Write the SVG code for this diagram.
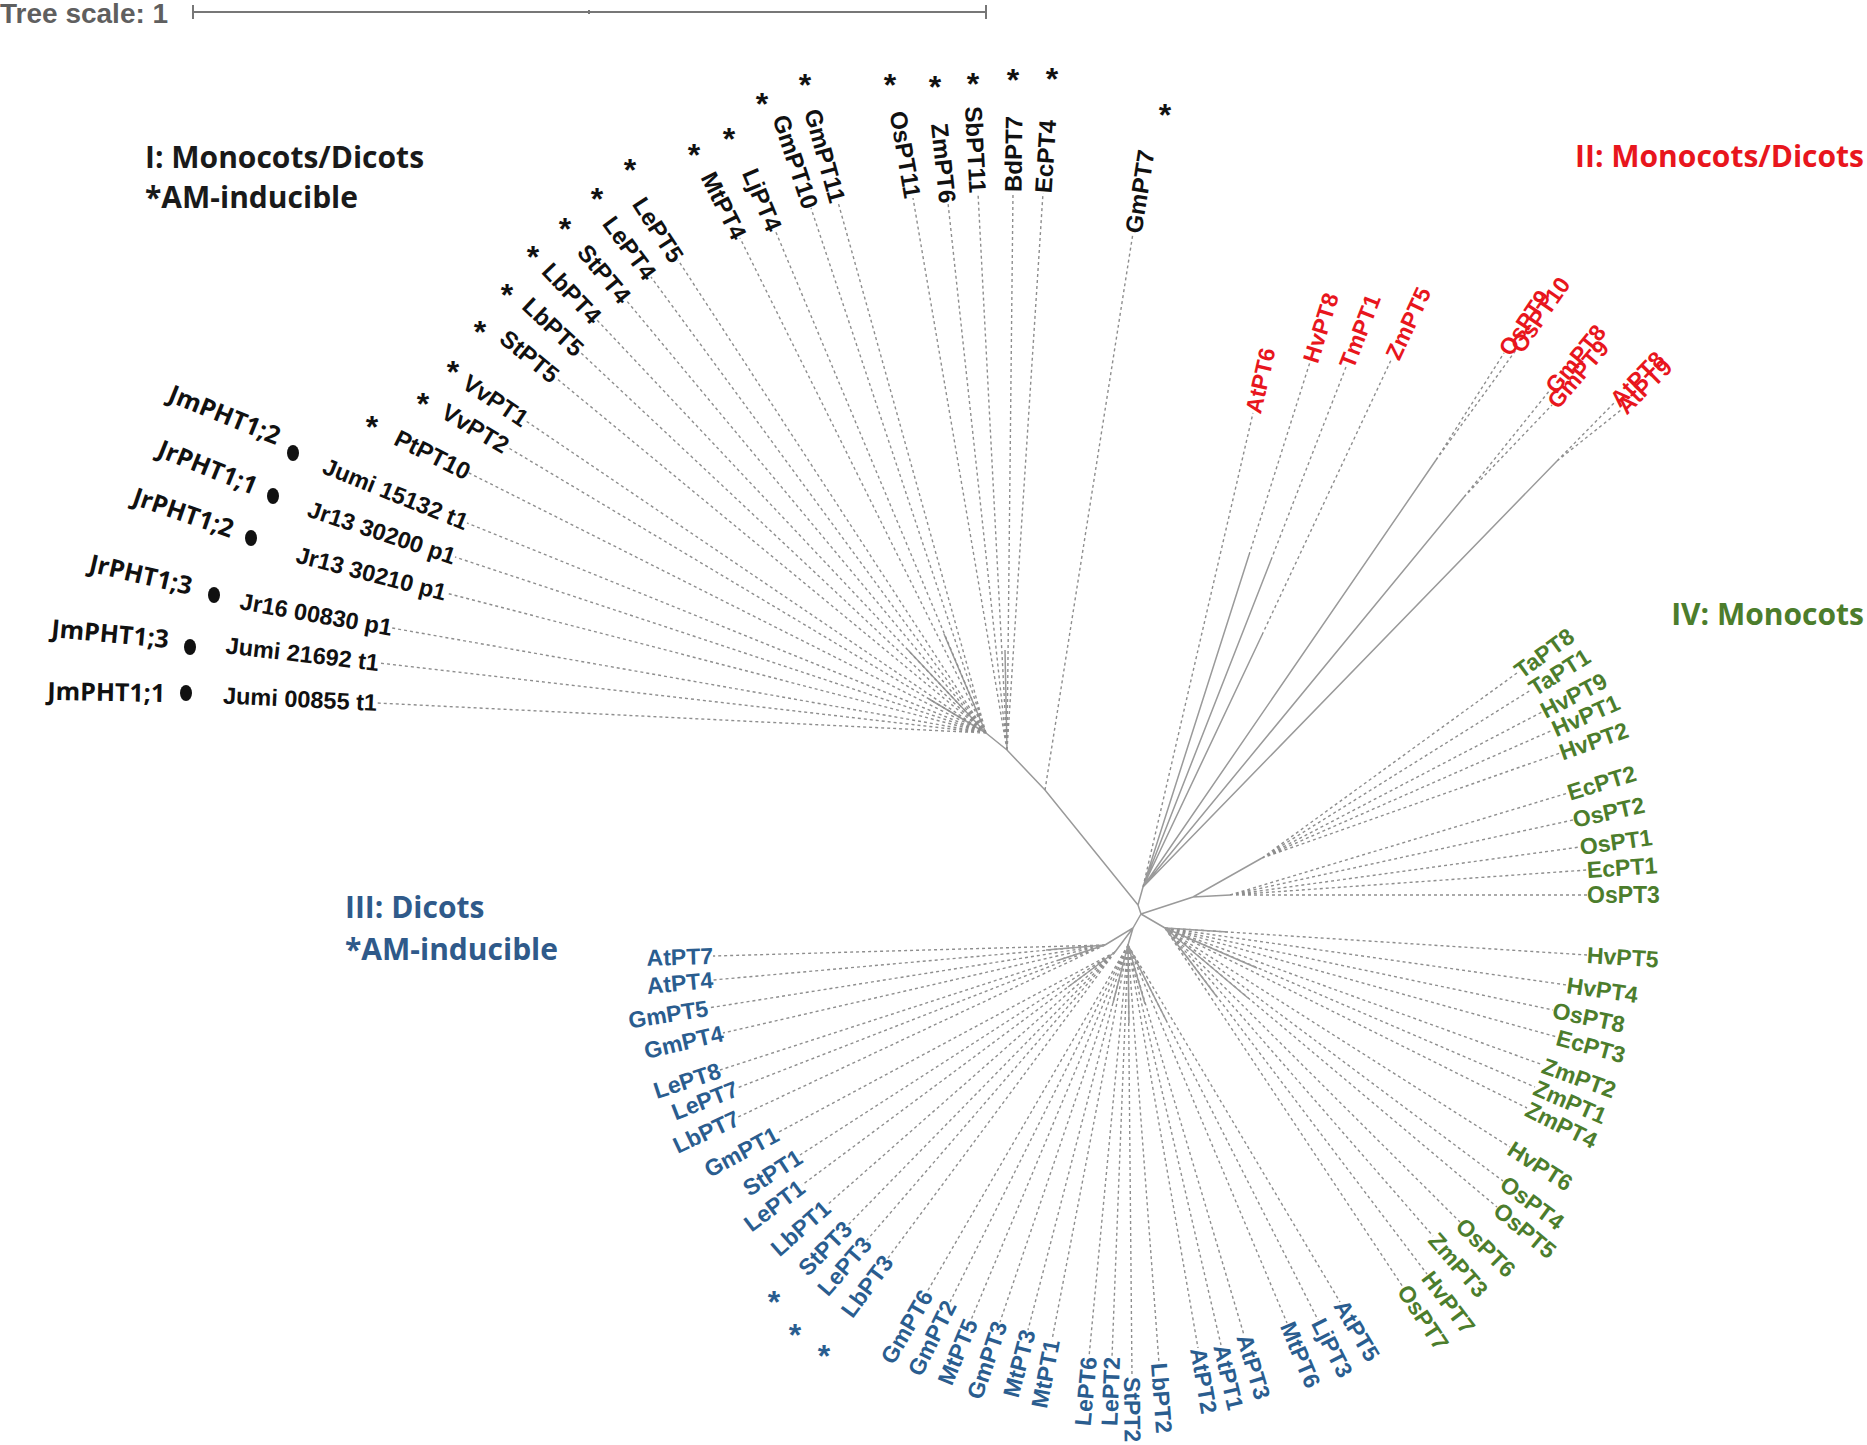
<svg xmlns="http://www.w3.org/2000/svg" width="1867" height="1445" viewBox="0 0 1867 1445">
<style>
.d{stroke:#8e8e8e;stroke-width:1.4;stroke-dasharray:3 3;fill:none}
.s{stroke:#9a9a9a;stroke-width:1.5;fill:none}
.lb{font-family:"Liberation Sans",Arial,sans-serif;font-weight:bold;font-size:23px;dominant-baseline:central}
.k{font-size:24px}
.j{font-size:23.5px}
.e{text-anchor:end}
.k,.j{fill:#111}
.r{fill:#e8161d}
.g{fill:#4c7d2c}
.b{fill:#2a5d8f}
.ast{font-family:"Liberation Sans",Arial,sans-serif;font-weight:bold;font-size:32px;text-anchor:middle}
.ti{font-family:"Open Sans","Liberation Sans",sans-serif;font-weight:700;font-size:30px}
.jm{font-family:"Open Sans","Liberation Sans",sans-serif;font-weight:700;font-size:25px;fill:#111;text-anchor:end}
</style>
<rect width="1867" height="1445" fill="#fff"/>
<g id="scale">
<text x="0" y="23" font-family="Liberation Sans,Arial,sans-serif" font-weight="bold" font-size="28" fill="#5f5f5f">Tree scale: 1</text>
<path d="M193 12H986M193 5V19M986 5V19M589 10V14" stroke="#777" stroke-width="2" fill="none"/>
</g>
<g id="titles">
<text class="ti" x="145" y="168" fill="#1a1a1a">I: Monocots/Dicots</text>
<text class="ti" x="145" y="208" fill="#1a1a1a">*AM-inducible</text>
<text class="ti" x="1864" y="167" fill="#e8161d" text-anchor="end">II: Monocots/Dicots</text>
<text class="ti" x="1864" y="625" fill="#4c7d2c" text-anchor="end">IV: Monocots</text>
<text class="ti" x="345" y="918" fill="#2f5a8a">III: Dicots</text>
<text class="ti" x="345" y="960" fill="#2f5a8a">*AM-inducible</text>
</g>
<g id="connectors">
<path class="s" d="M1138 905L1045 790L1007 750L986 733M1007 750L1005 650M986 733L908 650M986 733L944 634M986 733L929 699M1138 905L1141 914M1138 905L1143 887M1141 914L1193 897L1262 858M1193 897L1230 895M1141 914L1165 928M1141 914L1133 928L1105 945M1133 928L1115 952M1133 928L1128 945"/>
<path class="d" d="M986 733L377 703M986 733L379 663M986 733L392 628M986 733L446 593M986 733L455 557M986 733L467 523M986 733L469 473M986 733L507 447M986 733L526 421M986 733L556 378M986 733L580 352M986 733L597 320M986 733L626 300M986 733L651 277M986 733L678 260M986 733L740 238M986 733L775 230M986 733L811 208M986 733L838 202M1007 750L913 198M1007 750L948 203M1007 750L978 193M1007 750L1013 192M1007 750L1043 193M1045 790L1133 233"/>
<path class="s" d="M1143 887L1249 555M1143 887L1271 560M1143 887L1262 635M1143 887L1436 460M1143 887L1464 497M1143 887L1557 461"/>
<path class="d" d="M1143 887L1253 413M1249 555L1310 362M1271 560L1346 367M1262 635L1392 358M1436 460L1504 353M1436 460L1516 350M1464 497L1550 390M1464 497L1552 405M1557 461L1614 403M1557 461L1621 410"/>
<path class="d" d="M1262 858L1517 673M1262 858L1531 690M1262 858L1542 712M1262 858L1553 730M1262 858L1560 753M1230 895L1568 793M1230 895L1573 820M1230 895L1580 847M1230 895L1587 870M1230 895L1587 895"/>
<path class="d" d="M1165 928L1587 955M1165 928L1567 985M1165 928L1553 1010M1165 928L1557 1037M1165 928L1543 1065M1165 928L1535 1087M1165 928L1527 1108M1165 928L1510 1147M1165 928L1503 1181M1165 928L1497 1207M1165 928L1460 1222M1165 928L1433 1236M1165 928L1427 1274M1165 928L1403 1287"/>
<path class="s" d="M1165 928L1228 932M1165 928L1257 968M1165 928L1248 998M1165 928L1217 997"/>
<path class="d" d="M1105 945L713 956M1105 945L713 980M1105 945L708 1008M1105 945L723 1033M1105 945L720 1070M1105 945L737 1088M1105 945L738 1117M1115 952L777 1133M1115 952L800 1155M1115 952L802 1185M1115 952L827 1205M1115 952L848 1225M1115 952L867 1240M1115 952L888 1258M1128 945L927 1292M1128 945L950 1302M1128 945L971 1320M1128 945L1000 1322M1128 945L1028 1330M1128 945L1052 1340M1128 945L1089 1357M1128 945L1112 1357M1128 945L1132 1377M1128 945L1159 1363M1128 945L1198 1348M1128 945L1221 1345M1128 945L1244 1335M1128 945L1287 1323M1128 945L1318 1320M1128 945L1340 1302"/>
<path class="s" d="M1105 945L1046 950M1105 945L1059 960M1115 952L1068 987M1128 945L1129 1023M1128 945L1113 1003M1128 945L1145 1004M1128 945L1166 1020"/>
</g>
<g id="group1">
<g id="leaf-Jumi00855"><text class="lb j e" transform="translate(377,703) rotate(2.8)">Jumi 00855 t1</text><ellipse cx="186" cy="693" rx="6" ry="8" fill="#111"/><text class="jm" transform="translate(165,702) rotate(1)">JmPHT1;1</text></g>
<g id="leaf-Jumi21692"><text class="lb j e" transform="translate(379,663) rotate(6.6)">Jumi 21692 t1</text><ellipse cx="190" cy="647" rx="6" ry="8" fill="#111"/><text class="jm" transform="translate(168,648) rotate(5.4)">JmPHT1;3</text></g>
<g id="leaf-Jr1600830"><text class="lb j e" transform="translate(392,628) rotate(10)">Jr16 00830 p1</text><ellipse cx="214" cy="595" rx="6" ry="8" fill="#111"/><text class="jm" transform="translate(190,595) rotate(13)">JrPHT1;3</text></g>
<g id="leaf-Jr1330210"><text class="lb j e" transform="translate(446,593) rotate(14.5)">Jr13 30210 p1</text><ellipse cx="251" cy="538" rx="6" ry="8" fill="#111"/><text class="jm" transform="translate(230,538) rotate(19)">JrPHT1;2</text></g>
<g id="leaf-Jr1330200"><text class="lb j e" transform="translate(455,557) rotate(18.3)">Jr13 30200 p1</text><ellipse cx="273" cy="496" rx="6" ry="8" fill="#111"/><text class="jm" transform="translate(253,495) rotate(22)">JrPHT1;1</text></g>
<g id="leaf-Jumi15132"><text class="lb j e" transform="translate(467,523) rotate(22)">Jumi 15132 t1</text><ellipse cx="293" cy="453" rx="6" ry="8" fill="#111"/><text class="jm" transform="translate(276,445) rotate(22)">JmPHT1;2</text></g>
<g id="leaf-PtPT10"><text class="lb k e" transform="translate(469,473) rotate(26.7)">PtPT10</text><text class="ast k" x="372" y="438">*</text></g>
<g id="leaf-VvPT2"><text class="lb k e" transform="translate(507,447) rotate(30.8)">VvPT2</text><text class="ast k" x="423" y="415">*</text></g>
<g id="leaf-VvPT1"><text class="lb k e" transform="translate(526,421) rotate(34.1)">VvPT1</text><text class="ast k" x="453" y="383">*</text></g>
<g id="leaf-StPT5"><text class="lb k e" transform="translate(556,378) rotate(39.5)">StPT5</text><text class="ast k" x="480" y="343">*</text></g>
<g id="leaf-LbPT5"><text class="lb k e" transform="translate(580,352) rotate(43.2)">LbPT5</text><text class="ast k" x="507" y="306">*</text></g>
<g id="leaf-LbPT4"><text class="lb k e" transform="translate(597,320) rotate(46.7)">LbPT4</text><text class="ast k" x="533" y="268">*</text></g>
<g id="leaf-StPT4"><text class="lb k e" transform="translate(626,300) rotate(50.3)">StPT4</text><text class="ast k" x="565" y="240">*</text></g>
<g id="leaf-LePT4"><text class="lb k e" transform="translate(651,277) rotate(53.7)">LePT4</text><text class="ast k" x="597" y="210">*</text></g>
<g id="leaf-LePT5"><text class="lb k e" transform="translate(678,260) rotate(56.9)">LePT5</text><text class="ast k" x="630" y="181">*</text></g>
<g id="leaf-MtPT4"><text class="lb k e" transform="translate(740,238) rotate(63.6)">MtPT4</text><text class="ast k" x="694" y="166">*</text></g>
<g id="leaf-LjPT4"><text class="lb k e" transform="translate(775,230) rotate(67.2)">LjPT4</text><text class="ast k" x="729" y="150">*</text></g>
<g id="leaf-GmPT10"><text class="lb k e" transform="translate(811,208) rotate(71.6)">GmPT10</text><text class="ast k" x="762" y="115">*</text></g>
<g id="leaf-GmPT11"><text class="lb k e" transform="translate(838,202) rotate(74.4)">GmPT11</text><text class="ast k" x="805" y="96">*</text></g>
<g id="leaf-OsPT11"><text class="lb k e" transform="translate(913,198) rotate(80.1)">OsPT11</text><text class="ast k" x="890" y="96">*</text></g>
<g id="leaf-ZmPT6"><text class="lb k e" transform="translate(948,203) rotate(83.8)">ZmPT6</text><text class="ast k" x="935" y="98">*</text></g>
<g id="leaf-SbPT11"><text class="lb k e" transform="translate(978,193) rotate(87)">SbPT11</text><text class="ast k" x="973" y="95">*</text></g>
<g id="leaf-BdPT7"><text class="lb k" transform="translate(1013,192) rotate(-89.4)">BdPT7</text><text class="ast k" x="1013" y="91">*</text></g>
<g id="leaf-EcPT4"><text class="lb k" transform="translate(1043,193) rotate(-86.3)">EcPT4</text><text class="ast k" x="1052" y="90">*</text></g>
<g id="leaf-GmPT7"><text class="lb k" transform="translate(1133,233) rotate(-81)">GmPT7</text><text class="ast k" x="1165" y="126">*</text></g>
</g>
<g id="group2">
<g id="leaf-AtPT6"><text class="lb r" transform="translate(1253,413) rotate(-77.1)">AtPT6</text></g>
<g id="leaf-HvPT8"><text class="lb r" transform="translate(1310,362) rotate(-72.5)">HvPT8</text></g>
<g id="leaf-TmPT1"><text class="lb r" transform="translate(1346,367) rotate(-68.8)">TmPT1</text></g>
<g id="leaf-ZmPT5"><text class="lb r" transform="translate(1392,358) rotate(-64.9)">ZmPT5</text></g>
<g id="leaf-OsPT9"><text class="lb r" transform="translate(1504,353) rotate(-56)">OsPT9</text></g>
<g id="leaf-OsPT10"><text class="lb r" transform="translate(1516,350) rotate(-55.3)">OsPT10</text></g>
<g id="leaf-GmPT8"><text class="lb r" transform="translate(1550,390) rotate(-50.7)">GmPT8</text></g>
<g id="leaf-GmPT9"><text class="lb r" transform="translate(1552,405) rotate(-49.7)">GmPT9</text></g>
<g id="leaf-AtPT8"><text class="lb r" transform="translate(1614,403) rotate(-45.8)">AtPT8</text></g>
<g id="leaf-AtPT9"><text class="lb r" transform="translate(1621,410) rotate(-44.9)">AtPT9</text></g>
</g>
<g id="group4">
<g id="leaf-TaPT8"><text class="lb g" transform="translate(1517,673) rotate(-36)">TaPT8</text></g>
<g id="leaf-TaPT1"><text class="lb g" transform="translate(1531,690) rotate(-32)">TaPT1</text></g>
<g id="leaf-HvPT9"><text class="lb g" transform="translate(1542,712) rotate(-27.5)">HvPT9</text></g>
<g id="leaf-HvPT1"><text class="lb g" transform="translate(1553,730) rotate(-23.7)">HvPT1</text></g>
<g id="leaf-HvPT2"><text class="lb g" transform="translate(1560,753) rotate(-19.4)">HvPT2</text></g>
<g id="leaf-EcPT2"><text class="lb g" transform="translate(1568,793) rotate(-16.8)">EcPT2</text></g>
<g id="leaf-OsPT2"><text class="lb g" transform="translate(1573,820) rotate(-12.3)">OsPT2</text></g>
<g id="leaf-OsPT1"><text class="lb g" transform="translate(1580,847) rotate(-7.8)">OsPT1</text></g>
<g id="leaf-EcPT1"><text class="lb g" transform="translate(1587,870) rotate(-4)">EcPT1</text></g>
<g id="leaf-OsPT3"><text class="lb g" transform="translate(1587,895) rotate(0)">OsPT3</text></g>
<g id="leaf-HvPT5"><text class="lb g" transform="translate(1587,955) rotate(3.7)">HvPT5</text></g>
<g id="leaf-HvPT4"><text class="lb g" transform="translate(1567,985) rotate(8.1)">HvPT4</text></g>
<g id="leaf-OsPT8"><text class="lb g" transform="translate(1553,1010) rotate(11.9)">OsPT8</text></g>
<g id="leaf-EcPT3"><text class="lb g" transform="translate(1557,1037) rotate(15.5)">EcPT3</text></g>
<g id="leaf-ZmPT2"><text class="lb g" transform="translate(1543,1065) rotate(19.9)">ZmPT2</text></g>
<g id="leaf-ZmPT1"><text class="lb g" transform="translate(1535,1087) rotate(23.3)">ZmPT1</text></g>
<g id="leaf-ZmPT4"><text class="lb g" transform="translate(1527,1108) rotate(26.4)">ZmPT4</text></g>
<g id="leaf-HvPT6"><text class="lb g" transform="translate(1510,1147) rotate(32.4)">HvPT6</text></g>
<g id="leaf-OsPT4"><text class="lb g" transform="translate(1503,1181) rotate(36.8)">OsPT4</text></g>
<g id="leaf-OsPT5"><text class="lb g" transform="translate(1497,1207) rotate(40)">OsPT5</text></g>
<g id="leaf-OsPT6"><text class="lb g" transform="translate(1460,1222) rotate(44.9)">OsPT6</text></g>
<g id="leaf-ZmPT3"><text class="lb g" transform="translate(1433,1236) rotate(49)">ZmPT3</text></g>
<g id="leaf-HvPT7"><text class="lb g" transform="translate(1427,1274) rotate(52.9)">HvPT7</text></g>
<g id="leaf-OsPT7"><text class="lb g" transform="translate(1403,1287) rotate(56.5)">OsPT7</text></g>
</g>
<g id="group3">
<g id="leaf-AtPT7"><text class="lb b e" transform="translate(713,956) rotate(-1.6)">AtPT7</text></g>
<g id="leaf-AtPT4"><text class="lb b e" transform="translate(713,980) rotate(-5.1)">AtPT4</text></g>
<g id="leaf-GmPT5"><text class="lb b e" transform="translate(708,1008) rotate(-9)">GmPT5</text></g>
<g id="leaf-GmPT4"><text class="lb b e" transform="translate(723,1033) rotate(-13)">GmPT4</text></g>
<g id="leaf-LePT8"><text class="lb b e" transform="translate(720,1070) rotate(-18)">LePT8</text></g>
<g id="leaf-LePT7"><text class="lb b e" transform="translate(737,1088) rotate(-21.2)">LePT7</text></g>
<g id="leaf-LbPT7"><text class="lb b e" transform="translate(738,1117) rotate(-25.1)">LbPT7</text></g>
<g id="leaf-GmPT1"><text class="lb b e" transform="translate(777,1133) rotate(-28.2)">GmPT1</text></g>
<g id="leaf-StPT1"><text class="lb b e" transform="translate(800,1155) rotate(-32.8)">StPT1</text></g>
<g id="leaf-LePT1"><text class="lb b e" transform="translate(802,1185) rotate(-36.7)">LePT1</text></g>
<g id="leaf-LbPT1"><text class="lb b e" transform="translate(827,1205) rotate(-41.3)">LbPT1</text></g>
<g id="leaf-StPT3"><text class="lb b e" transform="translate(848,1225) rotate(-45.6)">StPT3</text><text class="ast b" x="774" y="1313">*</text></g>
<g id="leaf-LePT3"><text class="lb b e" transform="translate(867,1240) rotate(-49.3)">LePT3</text><text class="ast b" x="795" y="1346">*</text></g>
<g id="leaf-LbPT3"><text class="lb b e" transform="translate(888,1258) rotate(-53.4)">LbPT3</text><text class="ast b" x="824" y="1367">*</text></g>
<g id="leaf-GmPT6"><text class="lb b e" transform="translate(927,1292) rotate(-59.9)">GmPT6</text></g>
<g id="leaf-GmPT2"><text class="lb b e" transform="translate(950,1302) rotate(-63.5)">GmPT2</text></g>
<g id="leaf-MtPT5"><text class="lb b e" transform="translate(971,1320) rotate(-67.3)">MtPT5</text></g>
<g id="leaf-GmPT3"><text class="lb b e" transform="translate(1000,1322) rotate(-71.2)">GmPT3</text></g>
<g id="leaf-MtPT3"><text class="lb b e" transform="translate(1028,1330) rotate(-75.4)">MtPT3</text></g>
<g id="leaf-MtPT1"><text class="lb b e" transform="translate(1052,1340) rotate(-79.1)">MtPT1</text></g>
<g id="leaf-LePT6"><text class="lb b e" transform="translate(1089,1357) rotate(-84.6)">LePT6</text></g>
<g id="leaf-LePT2"><text class="lb b e" transform="translate(1112,1357) rotate(-87.8)">LePT2</text></g>
<g id="leaf-StPT2"><text class="lb b" transform="translate(1132,1377) rotate(89.5)">StPT2</text></g>
<g id="leaf-LbPT2"><text class="lb b" transform="translate(1159,1363) rotate(85.8)">LbPT2</text></g>
<g id="leaf-AtPT2"><text class="lb b" transform="translate(1198,1348) rotate(80.1)">AtPT2</text></g>
<g id="leaf-AtPT1"><text class="lb b" transform="translate(1221,1345) rotate(76.9)">AtPT1</text></g>
<g id="leaf-AtPT3"><text class="lb b" transform="translate(1244,1335) rotate(73.4)">AtPT3</text></g>
<g id="leaf-MtPT6"><text class="lb b" transform="translate(1287,1323) rotate(67.2)">MtPT6</text></g>
<g id="leaf-LjPT3"><text class="lb b" transform="translate(1318,1320) rotate(63.1)">LjPT3</text></g>
<g id="leaf-AtPT5"><text class="lb b" transform="translate(1340,1302) rotate(59.3)">AtPT5</text></g>
</g>
</svg>
